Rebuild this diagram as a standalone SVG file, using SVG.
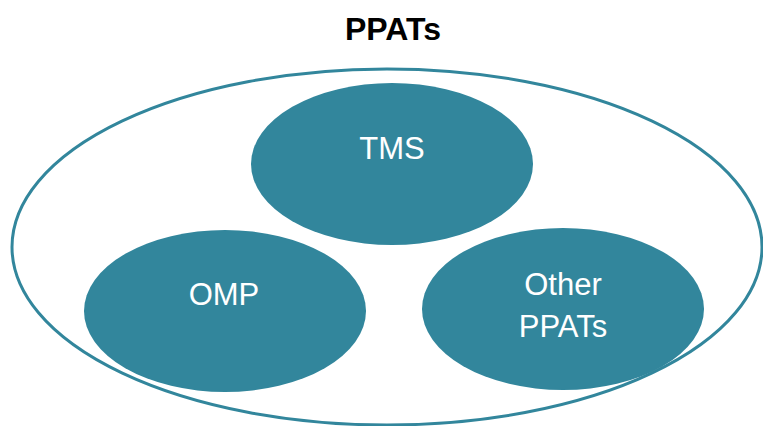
<svg xmlns="http://www.w3.org/2000/svg" width="763" height="426" viewBox="0 0 763 426">
<style>
.blob{fill:#32869c;}
.lbl{fill:#ffffff;font-family:"Liberation Sans",Arial,sans-serif;font-size:31px;text-anchor:middle;}
.title{fill:#000000;font-family:"Liberation Sans",Arial,sans-serif;font-size:32px;font-weight:bold;text-anchor:middle;}
</style>
<rect width="763" height="426" fill="#ffffff"/>
<text class="title" x="393" y="40">PPATs</text>
<g id="ppats">
<ellipse cx="387" cy="247" rx="375" ry="178" fill="none" stroke="#32869c" stroke-width="3"/>
</g>
<g id="tms">
<ellipse class="blob" cx="392" cy="164" rx="141" ry="81"/>
<text class="lbl" x="392" y="159">TMS</text>
</g>
<g id="omp">
<ellipse class="blob" cx="225" cy="311" rx="141" ry="81"/>
<text class="lbl" x="224" y="305">OMP</text>
</g>
<g id="other">
<ellipse class="blob" cx="563" cy="309" rx="141" ry="81"/>
<text class="lbl" x="563" y="295">Other</text>
<text class="lbl" x="563" y="337">PPATs</text>
</g>
<g id="connectors"/>
</svg>
